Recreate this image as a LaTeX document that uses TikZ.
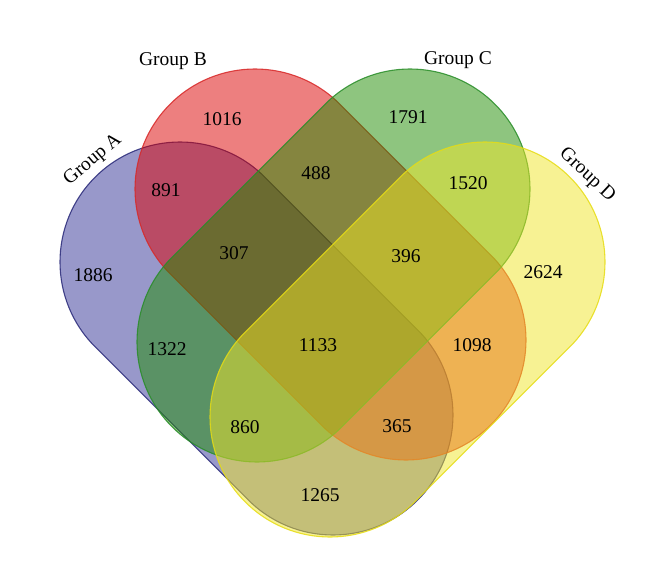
\documentclass[tikz,border=0pt]{standalone}
\usepackage{fontspec}
\setmainfont{Liberation Serif}
\usetikzlibrary{calc}
\definecolor{fillA}{RGB}{50,50,150}
\definecolor{fillB}{RGB}{220,0,0}
\definecolor{fillC}{RGB}{30,140,0}
\definecolor{fillD}{RGB}{240,230,40}
\definecolor{edgeA}{RGB}{40,40,120}
\definecolor{edgeB}{RGB}{215,40,40}
\definecolor{edgeC}{RGB}{40,140,40}
\definecolor{edgeD}{RGB}{230,220,20}
\newcommand{\capsulepath}[3]{% P1, P2, direction angle
  ($(#1)+(#3+90:120pt)$) -- ($(#2)+(#3+90:120pt)$)
  arc[start angle=#3+90, end angle=#3-90, radius=120pt]
  -- ($(#1)+(#3-90:120pt)$)
  arc[start angle=#3-90, end angle=#3-270, radius=120pt] -- cycle}
\tikzset{
  setshape/.style={line width=1.1pt, fill opacity=0.5, draw opacity=0.85},
  num/.style={font=\fontsize{19.5}{22}\selectfont, inner sep=0pt},
  grp/.style={font=\fontsize{19.5}{22}\selectfont, inner sep=0pt}
}
\begin{document}
\begin{tikzpicture}[x=1pt,y=1pt]
\useasboundingbox (0,0) rectangle (660,582);
\coordinate (a1) at (180,320); \coordinate (a2) at (333,167);
\coordinate (b1) at (255,393); \coordinate (b2) at (406,242);
\coordinate (c1) at (410,393); \coordinate (c2) at (257,240);
\coordinate (d1) at (485,320); \coordinate (d2) at (330,165);
\path[setshape, fill=fillA, draw=edgeA] \capsulepath{a1}{a2}{-45};
\path[setshape, fill=fillB, draw=edgeB] \capsulepath{b1}{b2}{-45};
\path[setshape, fill=fillC, draw=edgeC] \capsulepath{c1}{c2}{-135};
\path[setshape, fill=fillD, draw=edgeD] \capsulepath{d1}{d2}{-135};
\node[grp, rotate=40] (gA) at (93,422) {Group A};
\node[grp] (gB) at (173,521) {Group B};
\node[grp] (gC) at (458,522) {Group C};
\node[grp, rotate=-43] (gD) at (587,407) {Group D};
\node[num] (n1016) at (222,463) {1016};
\node[num] (n891) at (166,392) {891};
\node[num] (n1886) at (93,307) {1886};
\node[num] (n307) at (234,329) {307};
\node[num] (n488) at (316,409) {488};
\node[num] (n1791) at (408,465) {1791};
\node[num] (n1520) at (468,399) {1520};
\node[num] (n396) at (406,326) {396};
\node[num] (n2624) at (543,310) {2624};
\node[num] (n1322) at (167,233) {1322};
\node[num] (n1133) at (318,237) {1133};
\node[num] (n860) at (245,155) {860};
\node[num] (n1265) at (320,87) {1265};
\node[num] (n1098) at (472,237) {1098};
\node[num] (n365) at (397,156) {365};
\end{tikzpicture}
\end{document}
